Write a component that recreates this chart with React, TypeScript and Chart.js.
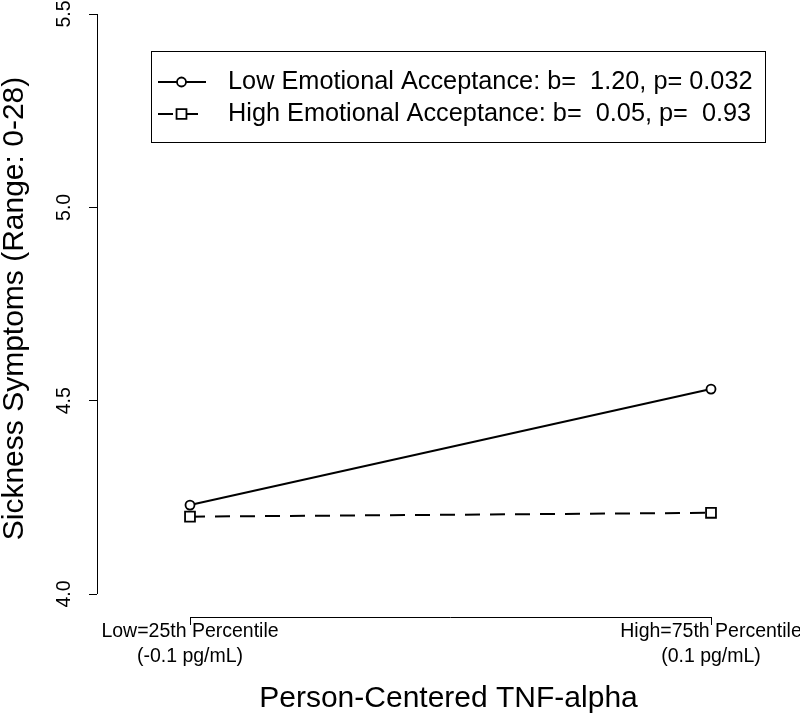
import React, { useEffect, useRef } from "react";
import { Chart, registerables } from "chart.js";

Chart.register(...registerables);

// ---- data ----
const xValues = [1, 2];
const xTickLabels: string[][] = [
  ["Low=25th Percentile", "(-0.1 pg/mL)"],
  ["High=75th Percentile", "(0.1 pg/mL)"],
];
const lowAcceptance = [4.23, 4.53];
const highAcceptance = [4.2, 4.21];
const yTicks = [4.0, 4.5, 5.0, 5.5];
const seriesLabels = [
  "Low Emotional Acceptance: b=  1.20, p= 0.032",
  "High Emotional Acceptance: b=  0.05, p=  0.93",
];
const xTitle = "Person-Centered TNF-alpha";
const yTitle = "Sickness Symptoms (Range: 0-28)";

const FONT = "'Liberation Sans', Arial, Helvetica, sans-serif";

const rAxesAndLegend = {
  id: "rAxesAndLegend",
  afterDraw(chart: any) {
    const { ctx, chartArea, scales } = chart;
    const xs = scales.x;
    const ys = scales.y;
    ctx.save();
    ctx.strokeStyle = "#000";
    ctx.lineWidth = 1;
    // y axis line (from first to last tick, like R)
    const ax = Math.round(chartArea.left) + 0.5;
    ctx.beginPath();
    ctx.moveTo(ax, ys.getPixelForValue(yTicks[0]));
    ctx.lineTo(ax, ys.getPixelForValue(yTicks[yTicks.length - 1]));
    ctx.stroke();
    // x axis line
    const ay = Math.round(chartArea.bottom) + 0.5;
    ctx.beginPath();
    ctx.moveTo(xs.getPixelForValue(xValues[0]), ay);
    ctx.lineTo(xs.getPixelForValue(xValues[xValues.length - 1]), ay);
    ctx.stroke();

    // legend box
    const bx = 151.5, by = 51.5, bw = 614, bh = 91;
    ctx.strokeRect(bx, by, bw, bh);
    const rowY = [82, 114];
    chart.data.datasets.forEach((ds: any, i: number) => {
      const y = rowY[i];
      ctx.save();
      ctx.strokeStyle = ds.borderColor;
      ctx.lineWidth = ds.borderWidth;
      ctx.setLineDash(ds.borderDash || []);
      ctx.beginPath();
      ctx.moveTo(158, y);
      ctx.lineTo(206, y);
      ctx.stroke();
      ctx.setLineDash([]);
      ctx.fillStyle = "#fff";
      ctx.lineWidth = ds.pointBorderWidth;
      ctx.beginPath();
      if (ds.pointStyle === "rect") {
        const s = ds.pointRadius * Math.SQRT1_2;
        ctx.rect(181.5 - s, y - s, 2 * s, 2 * s);
      } else {
        ctx.arc(181.5, y, ds.pointRadius, 0, Math.PI * 2);
      }
      ctx.fill();
      ctx.stroke();
      ctx.restore();
      ctx.fillStyle = "#000";
      ctx.font = `25.3px ${FONT}`;
      ctx.textAlign = "left";
      ctx.textBaseline = "middle";
      ctx.fillText(ds.label, 228, y);
    });
    ctx.restore();
  },
};

export default function App() {
  const ref = useRef<HTMLCanvasElement | null>(null);

  useEffect(() => {
    if (!ref.current) return;
    const chart = new Chart(ref.current, {
      type: "line",
      data: {
        datasets: [
          {
            label: seriesLabels[0],
            data: xValues.map((x, i) => ({ x, y: lowAcceptance[i] })),
            borderColor: "#000",
            borderWidth: 2,
            pointStyle: "circle",
            pointRadius: 4.5,
            pointBorderWidth: 1.8,
            pointBackgroundColor: "#fff",
            pointBorderColor: "#000",
            fill: false,
            tension: 0,
          },
          {
            label: seriesLabels[1],
            data: xValues.map((x, i) => ({ x, y: highAcceptance[i] })),
            borderColor: "#000",
            borderWidth: 2,
            borderDash: [15, 10],
            pointStyle: "rect",
            pointRadius: 7,
            pointBorderWidth: 1.8,
            pointBackgroundColor: "#fff",
            pointBorderColor: "#000",
            fill: false,
            tension: 0,
          },
        ] as any,
      },
      options: {
        responsive: false,
        animation: false,
        devicePixelRatio: 1,
        layout: { padding: 0, autoPadding: false },
        plugins: {
          legend: { display: false },
          tooltip: { enabled: false },
        },
        scales: {
          x: {
            type: "linear",
            bounds: "data",
            min: 0.8215,
            max: 2.1708,
            afterBuildTicks: (s: any) => {
              s.ticks = xValues.map((v) => ({ value: v }));
            },
            afterFit: (s: any) => {
              s.height = 101;
              s.paddingLeft = 0;
              s.paddingRight = 0;
            },
            ticks: {
              autoSkip: false,
              minRotation: 0,
              maxRotation: 0,
              padding: -6,
              color: "#000",
              font: { family: FONT, size: 19.5, lineHeight: 1.28 },
              callback: (v: any) => xTickLabels[xValues.indexOf(Number(v))],
            },
            grid: {
              drawOnChartArea: false,
              drawTicks: true,
              tickLength: 8,
              color: "#000",
              lineWidth: 1,
            },
            border: { display: false },
            title: {
              display: true,
              text: xTitle,
              color: "#000",
              font: { family: FONT, size: 30, lineHeight: 1 },
              padding: { top: 0, bottom: 4 },
            },
          },
          y: {
            type: "linear",
            bounds: "data",
            min: 3.94052,
            max: 5.53621,
            afterBuildTicks: (s: any) => {
              s.ticks = yTicks.map((v) => ({ value: v }));
            },
            afterFit: (s: any) => {
              s.width = 97;
              s.paddingTop = 0;
              s.paddingBottom = 0;
            },
            ticks: {
              autoSkip: false,
              minRotation: 90,
              maxRotation: 90,
              crossAlign: "center",
              padding: 11,
              color: "#000",
              font: { family: FONT, size: 19.5 },
              callback: (v: any) => Number(v).toFixed(1),
            },
            grid: {
              drawOnChartArea: false,
              drawTicks: true,
              tickLength: 8,
              color: "#000",
              lineWidth: 1,
            },
            border: { display: false },
            title: {
              display: true,
              text: yTitle,
              color: "#000",
              font: { family: FONT, size: 30, lineHeight: 0.95 },
              padding: 0,
            },
          },
        },
      } as any,
      plugins: [rAxesAndLegend],
    });
    return () => chart.destroy();
  }, []);

  return (
    <div style={{ position: "fixed", left: 0, top: 0, width: 800, height: 718, background: "#fff" }}>
      <canvas ref={ref} width={800} height={718} style={{ display: "block" }} />
    </div>
  );
}
